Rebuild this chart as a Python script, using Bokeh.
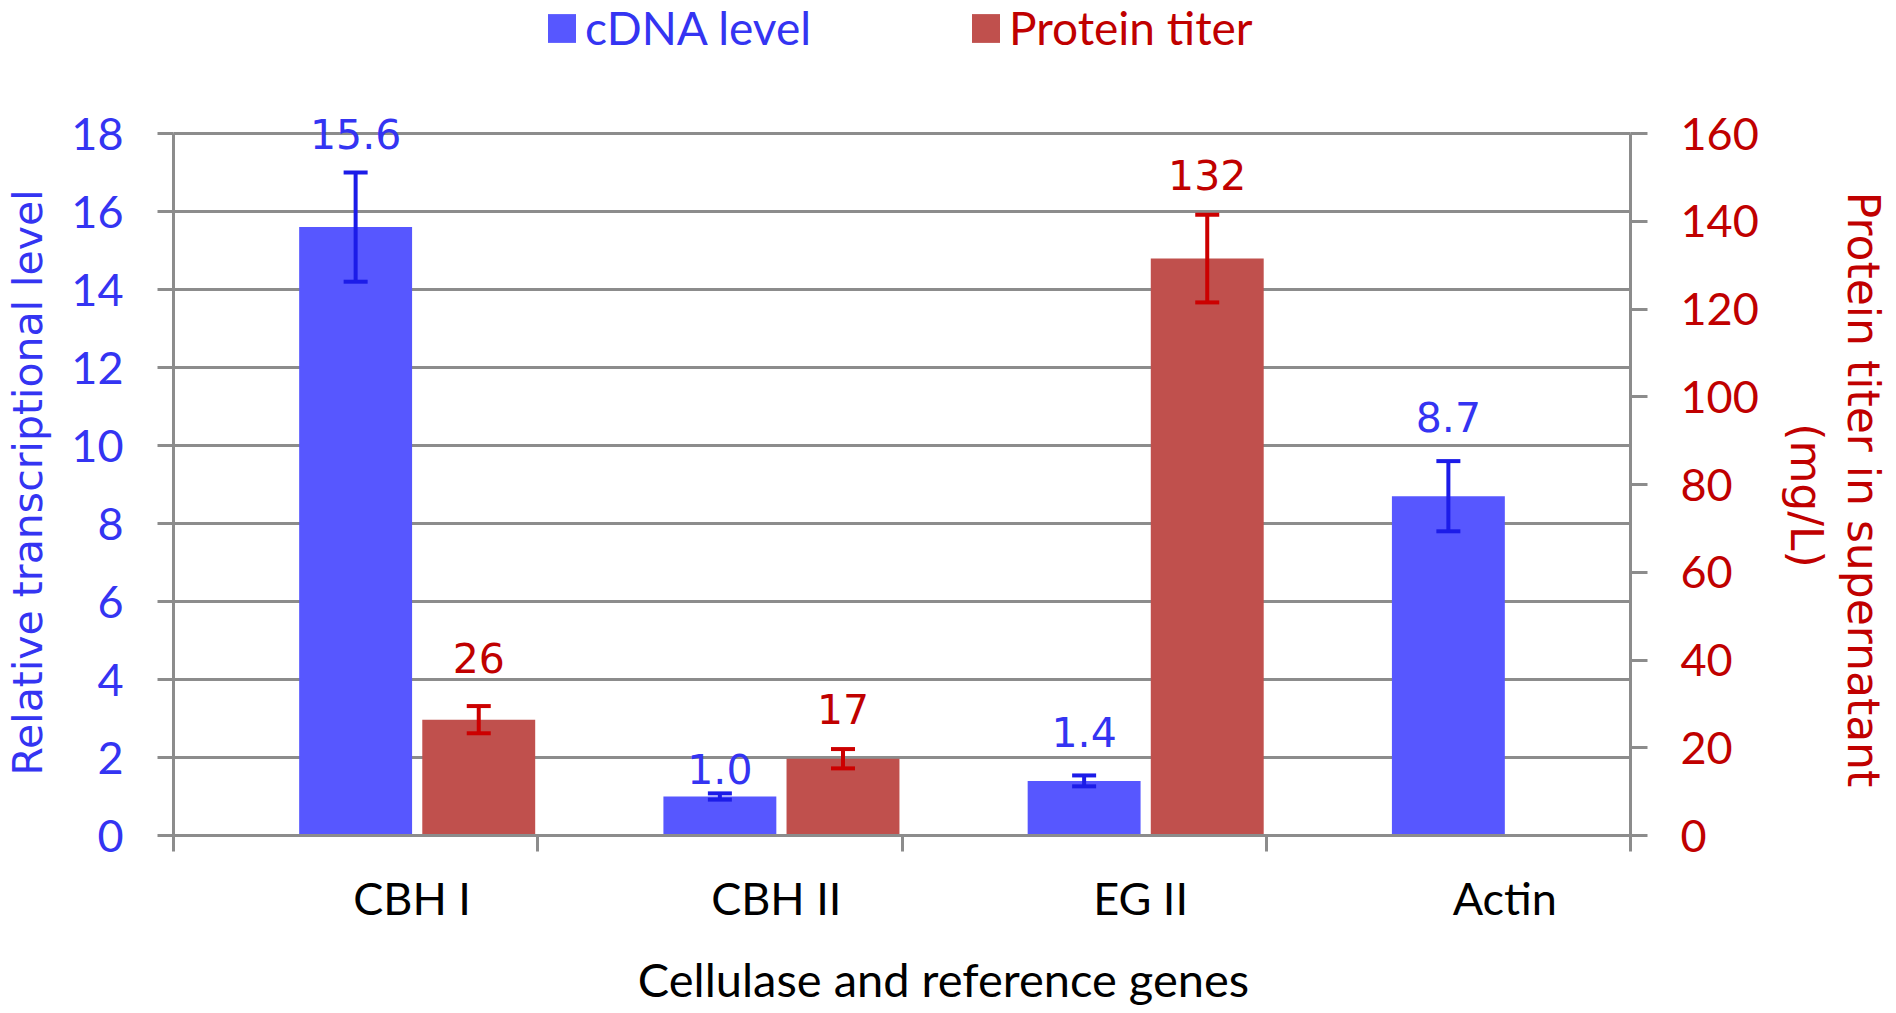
from math import pi
from bokeh.plotting import figure
from bokeh.models import (Range1d, LinearAxis, FixedTicker, Whisker, TeeHead,
                          ColumnDataSource, Legend, LegendItem)
from bokeh.core.properties import value
from bokeh.embed import file_html
from bokeh.resources import INLINE

# ---------------- data ----------------
categories = ["CBH I", "CBH II", "EG II", "Actin"]
cdna_level = [15.6, 1.0, 1.4, 8.7]
cdna_err = [1.4, 0.08, 0.14, 0.9]
cdna_labels = ["15.6", "1.0", "1.4", "8.7"]

protein_categories = ["CBH I", "CBH II", "EG II"]
protein_titer = [26.4, 17.5, 131.5]
protein_err = [3.1, 2.2, 10.0]
protein_labels = ["26", "17", "132"]

left_ticks = [0, 2, 4, 6, 8, 10, 12, 14, 16, 18]
right_ticks = [0, 20, 40, 60, 80, 100, 120, 140, 160]

x_title = "Cellulase and reference genes"
y_title = "Relative transcriptional level"
y2_title = ["Protein titer in supernatant", "(mg/L)"]

# ---------------- layout (picture pixels) / style ----------------
W, H, PAGE_OFF = 1892, 1010, 0
X0_PX, XN_PX = 173, 1630        # picture x of category axis start / end
Y0_PX, YT_PX = 835, 133         # picture y of value 0 / top tick
NCAT = len(categories)
LMAX, RMAX = left_ticks[-1], right_ticks[-1]
ppx = (XN_PX - X0_PX) / NCAT
ppy = (Y0_PX - YT_PX) / LMAX


def dx(px):
    return (px - X0_PX) / ppx


def dy(py):
    return (Y0_PX - py) / ppy


R2 = RMAX / LMAX

BLUE_BAR = "#5757FF"
RED_BAR = "#C0504D"
BLUE_TXT = "#3434F2"
RED_TXT = "#C00000"
BLUE_ERR = "#1C1CE8"
RED_ERR = "#CC0000"
GRAY = "#8C8C8C"
SANS = "Lato"
LABEL_FONT = "DejaVu Sans"

BLUE_OFF, RED_OFF, BAR_W = 0.5, 0.838, 0.31
CAT_LABEL_OFF = 0.655
cdna_label_gap = [93, 28, 49, 79]        # px from bar top to label centre
protein_label_gap = [62, 50, 84]

x_start, x_end = dx(PAGE_OFF), dx(PAGE_OFF + W)
y_start, y_end = dy(PAGE_OFF + H), dy(PAGE_OFF)

p = figure(width=W, height=H, output_backend="svg", toolbar_location=None, title=None,
           x_range=Range1d(x_start, x_end), y_range=Range1d(y_start, y_end),
           x_axis_type=None, y_axis_type=None,
           min_border_left=0, min_border_right=0, min_border_top=0, min_border_bottom=0)
p.extra_y_ranges = {"right": Range1d(y_start * R2, y_end * R2)}
p.outline_line_color = None
p.background_fill_color = "white"
p.border_fill_color = "white"

# horizontal gridlines at the left-axis ticks, between the two value axes
p.segment(x0=[0] * len(left_ticks), x1=[NCAT] * len(left_ticks), y0=left_ticks, y1=left_ticks,
          line_color=GRAY, line_width=3)


def style_axis(ax, color, size="45px"):
    ax.axis_line_color = GRAY
    ax.axis_line_width = 3
    ax.major_tick_line_color = GRAY
    ax.major_tick_line_width = 3
    ax.major_tick_in = 0
    ax.minor_tick_line_color = None
    ax.major_label_text_font = SANS
    ax.major_label_text_font_size = size
    ax.major_label_text_color = color


lax = LinearAxis(ticker=FixedTicker(ticks=left_ticks), bounds=(0, LMAX), fixed_location=0)
style_axis(lax, BLUE_TXT)
lax.major_tick_out = 16
lax.major_label_standoff = 34
p.add_layout(lax, "left")

rax = LinearAxis(y_range_name="right", ticker=FixedTicker(ticks=right_ticks), bounds=(0, RMAX),
                 fixed_location=NCAT)
style_axis(rax, RED_TXT)
rax.major_tick_out = 17
rax.major_label_standoff = 33
p.add_layout(rax, "right")

cat_pos = [i + CAT_LABEL_OFF for i in range(NCAT)]
bax = LinearAxis(ticker=FixedTicker(ticks=cat_pos, minor_ticks=list(range(NCAT + 1))),
                 bounds=(0, NCAT), fixed_location=0)
style_axis(bax, "black")
bax.major_label_overrides = {pos: c for pos, c in zip(cat_pos, categories)}
bax.major_tick_line_color = None
bax.major_tick_out = 16
bax.minor_tick_line_color = GRAY
bax.minor_tick_line_width = 3
bax.minor_tick_out = 16
bax.minor_tick_in = 0
bax.major_label_standoff = 19
p.add_layout(bax, "below")

# axis titles (anchored at their visual centres)
p.text(x=[dx(943)], y=[dy(978)], text=[x_title], text_align="center", text_baseline="middle",
       text_font=value(SANS), text_font_size="47px", text_color="black")
p.text(x=[dx(27)], y=[dy(482)], text=[y_title], angle=pi / 2, text_align="center",
       text_baseline="middle", text_font=value(LABEL_FONT), text_font_size="41px",
       text_color=BLUE_TXT)
p.text(x=[dx(1863), dx(1806)], y=[dy(489), dy(495)], text=y2_title, angle=-pi / 2,
       text_align="center", text_baseline="middle", text_font=value(LABEL_FONT),
       text_font_size="44px", text_color=RED_TXT)

# bars
bsrc = ColumnDataSource(dict(
    x=[i + BLUE_OFF for i in range(NCAT)],
    top=cdna_level,
    up=[v + e for v, e in zip(cdna_level, cdna_err)],
    lo=[v - e for v, e in zip(cdna_level, cdna_err)],
    lab=cdna_labels,
    off=[-g for g in cdna_label_gap],
))
rsrc = ColumnDataSource(dict(
    x=[i + RED_OFF for i in range(len(protein_categories))],
    top=protein_titer,
    up=[v + e for v, e in zip(protein_titer, protein_err)],
    lo=[v - e for v, e in zip(protein_titer, protein_err)],
    lab=protein_labels,
    off=[-g for g in protein_label_gap],
))

rb = p.vbar(x="x", top="top", width=BAR_W, source=bsrc, fill_color=BLUE_BAR, line_color=None)
rr = p.vbar(x="x", top="top", width=BAR_W, source=rsrc, fill_color=RED_BAR, line_color=None,
            y_range_name="right")

wb = Whisker(source=bsrc, base="x", upper="up", lower="lo", line_color=BLUE_ERR, line_width=4,
             upper_head=TeeHead(size=24, line_color=BLUE_ERR, line_width=4),
             lower_head=TeeHead(size=24, line_color=BLUE_ERR, line_width=4), level="annotation")
wr = Whisker(source=rsrc, base="x", upper="up", lower="lo", line_color=RED_ERR, line_width=4,
             upper_head=TeeHead(size=24, line_color=RED_ERR, line_width=4),
             lower_head=TeeHead(size=24, line_color=RED_ERR, line_width=4), level="annotation",
             y_range_name="right")
p.add_layout(wb)
p.add_layout(wr)

p.text(x="x", y="top", text="lab", y_offset="off", source=bsrc, text_align="center",
       text_baseline="middle", text_font=value(LABEL_FONT), text_font_size="41px",
       text_color=BLUE_TXT)
p.text(x="x", y="top", text="lab", y_offset="off", source=rsrc, text_align="center",
       text_baseline="middle", text_font=value(LABEL_FONT), text_font_size="41px",
       text_color=RED_TXT, y_range_name="right")


# legends (one per series so each label keeps its series colour)
def make_legend(label, rend, color, pic_x, pic_y_bottom):
    lg = Legend(items=[LegendItem(label=label, renderers=[rend])],
                location=(pic_x - PAGE_OFF, PAGE_OFF + H - pic_y_bottom),
                orientation="horizontal", padding=0, margin=0, border_line_color=None,
                background_fill_alpha=0, glyph_width=35, glyph_height=36, label_standoff=6,
                label_text_font=SANS, label_text_font_size="46px", label_text_color=color)
    p.add_layout(lg, "center")


make_legend("cDNA level", rb, BLUE_TXT, 544, 55)
make_legend("Protein titer", rr, RED_TXT, 968, 55)

open("out.html", "w").write(file_html(p, INLINE))
